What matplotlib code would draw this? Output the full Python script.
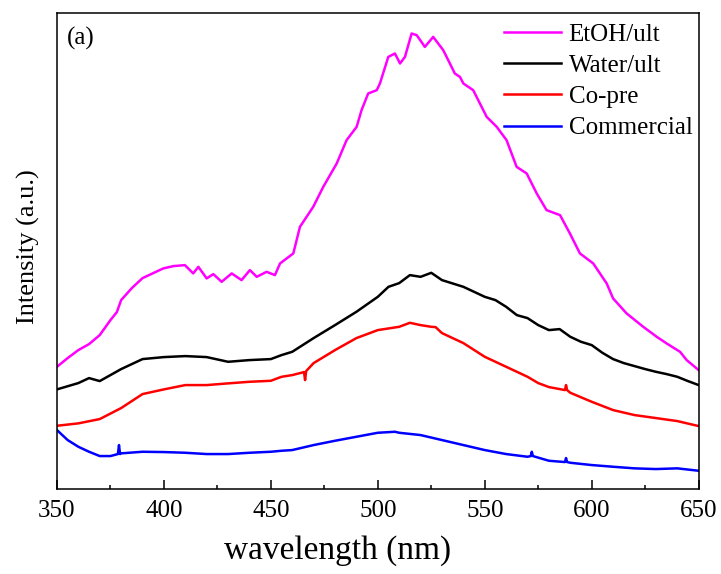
import matplotlib
matplotlib.use('Agg')
import matplotlib.pyplot as plt
from matplotlib.ticker import MultipleLocator

plt.rcParams['font.family'] = ['Liberation Serif', 'DejaVu Serif']
plt.rcParams['mathtext.fontset'] = 'stix'

# PL spectra, intensity in arbitrary units
wl_etoh = [350, 355, 360, 365, 370, 375, 378, 380, 385, 390, 395, 399.7, 404.4, 409.8,
           413.7, 416.1, 420, 423.1, 427, 431.7, 436.3, 440.2, 443.4, 448, 451.9, 454.3,
           460.5, 463.6, 469.8, 474.5, 480.8, 485.4, 490.1, 492.4, 495.5, 499.5, 501,
           504.9, 508, 510.4, 512.7, 515.8, 518.2, 522, 525.9, 530.6, 533.7, 536, 538.4,
           540, 544.6, 550.9, 555.6, 560.2, 564.9, 569.6, 574.3, 578.9, 585.2, 589.8,
           594.5, 600.7, 607, 610, 616.3, 624.1, 630.4, 635, 641.3, 644.4, 650]
int_etoh = [122.3, 131, 139, 145, 154, 169, 177, 189, 201, 211, 216, 220.7, 223, 224,
            215.7, 222.3, 210.7, 215, 207.3, 215.7, 209, 219, 212.3, 217.3, 214, 225.7,
            235.7, 262.3, 282.3, 302.3, 325.7, 349, 362.3, 379, 395.7, 399, 405.7,
            432.3, 435.7, 425.7, 432.3, 455.7, 454, 442.3, 452.3, 439, 425.7, 415.7, 412.3,
            405.7, 399, 372.3, 362.3, 349, 322.3, 315.7, 295.7, 279, 274, 255.7,
            235.7, 225.7, 205.7, 190.7, 175.7, 162.3, 152.3, 145.7, 137.3, 129, 119]

wl_water = [350, 360, 365, 370, 380, 390, 400, 410, 420, 430, 440, 450, 455, 460, 470,
            480, 490, 500, 505, 510, 515, 520, 525, 530, 540, 545, 550, 555, 560, 565,
            570, 575, 580, 585, 590, 595, 600, 605, 610, 615, 620, 625, 630, 635, 640,
            645, 650]
int_water = [99.7, 106, 111, 108, 120, 130, 132, 133, 132, 127.3, 129, 130, 134, 137.3,
             151, 164, 177.3, 192.3, 202.3, 206, 214, 212.3, 216.3, 209, 202.3, 197.3,
             192.3, 189, 182.3, 174, 171, 164, 159, 160, 152.3, 147.3, 144, 136.3, 130,
             126, 123, 120, 117.3, 115, 112.3, 108, 104]

wl_copre = [350, 360, 370, 380, 390, 400, 410, 420, 430, 440, 450, 455, 460, 465.5,
            466, 466.5, 470, 480, 490, 500, 510, 515, 520, 525, 527, 530, 540, 550, 560,
            570, 575, 580, 587.5, 588, 588.5, 590, 600, 610, 620, 630, 640, 650]
int_copre = [63.3, 65.7, 70, 81, 95, 99.7, 104, 104, 105.7, 107.3, 108.3, 112.3, 114,
             117, 109, 118, 126, 139, 151, 159, 162.3, 166.3, 164, 162.3, 162, 156,
             146, 132.3, 122.3, 112.3, 106, 102, 99, 104, 99, 96.3, 87.3, 79, 74, 71, 68, 63]

wl_comm = [350, 355, 360, 365, 370, 375, 378.5, 379, 379.5, 380, 390, 400, 410, 420,
           430, 440, 450, 455, 460, 470, 480, 490, 500, 508, 510, 520, 530, 540, 550,
           560, 570, 571.5, 572, 572.5, 580, 587.5, 588, 588.5, 590, 600, 610, 620, 630,
           640, 650]
int_comm = [59, 49, 42.3, 37.3, 33, 33, 35, 44, 35, 35.7, 37.3, 37, 36.3, 35, 35, 36.3,
            37.3, 38.3, 39, 44, 48.3, 52.3, 56.3, 57.3, 56.3, 54, 49, 44, 39, 35, 32.3,
            33, 37.3, 33, 28.3, 27, 31, 27, 26.3, 24, 22.3, 20.7, 20, 20.7, 18.3]

labels = ['EtOH/ult', 'Water/ult', 'Co-pre', 'Commercial']
colors = ['#ff00ff', 'black', 'red', 'blue']

fig = plt.figure(figsize=(7.21, 5.74), dpi=100)
ax = fig.add_axes([0.079, 0.148, 0.89, 0.829])

series = [(wl_etoh, int_etoh), (wl_water, int_water), (wl_copre, int_copre), (wl_comm, int_comm)]
for (x, y), lab, c in zip(series, labels, colors):
    ax.plot(x, y, color=c, lw=1.8, label=lab)

ax.set_xlim(350, 650)
ax.set_ylim(0, 476)
ax.xaxis.set_major_locator(MultipleLocator(50))
ax.xaxis.set_minor_locator(MultipleLocator(25))
ax.tick_params(axis='x', which='major', direction='in', length=6.5, width=1.1,
               labelsize=18, pad=8, top=False)
ax.tick_params(axis='x', which='minor', direction='in', length=3.2, width=1.1, top=False)
ax.set_yticks([])
for s in ax.spines.values():
    s.set_linewidth(1.1)

ax.set_xlabel('wavelength (nm)', fontsize=24)
ax.xaxis.set_label_coords(0.438, -0.097)
ax.set_ylabel('Intensity (a.u.)', fontsize=19)
ax.yaxis.set_label_coords(-0.027, 0.51)
ax.text(0.016, 0.972, '(a)', transform=ax.transAxes, fontsize=18, va='top', ha='left')

ax.legend(loc='upper right', bbox_to_anchor=(1.006, 1.0), frameon=False, fontsize=18,
          handlelength=2.3, handletextpad=0.3, labelspacing=0.35, borderaxespad=0.3,
          borderpad=0.1)

plt.savefig('out.png', dpi=100)
